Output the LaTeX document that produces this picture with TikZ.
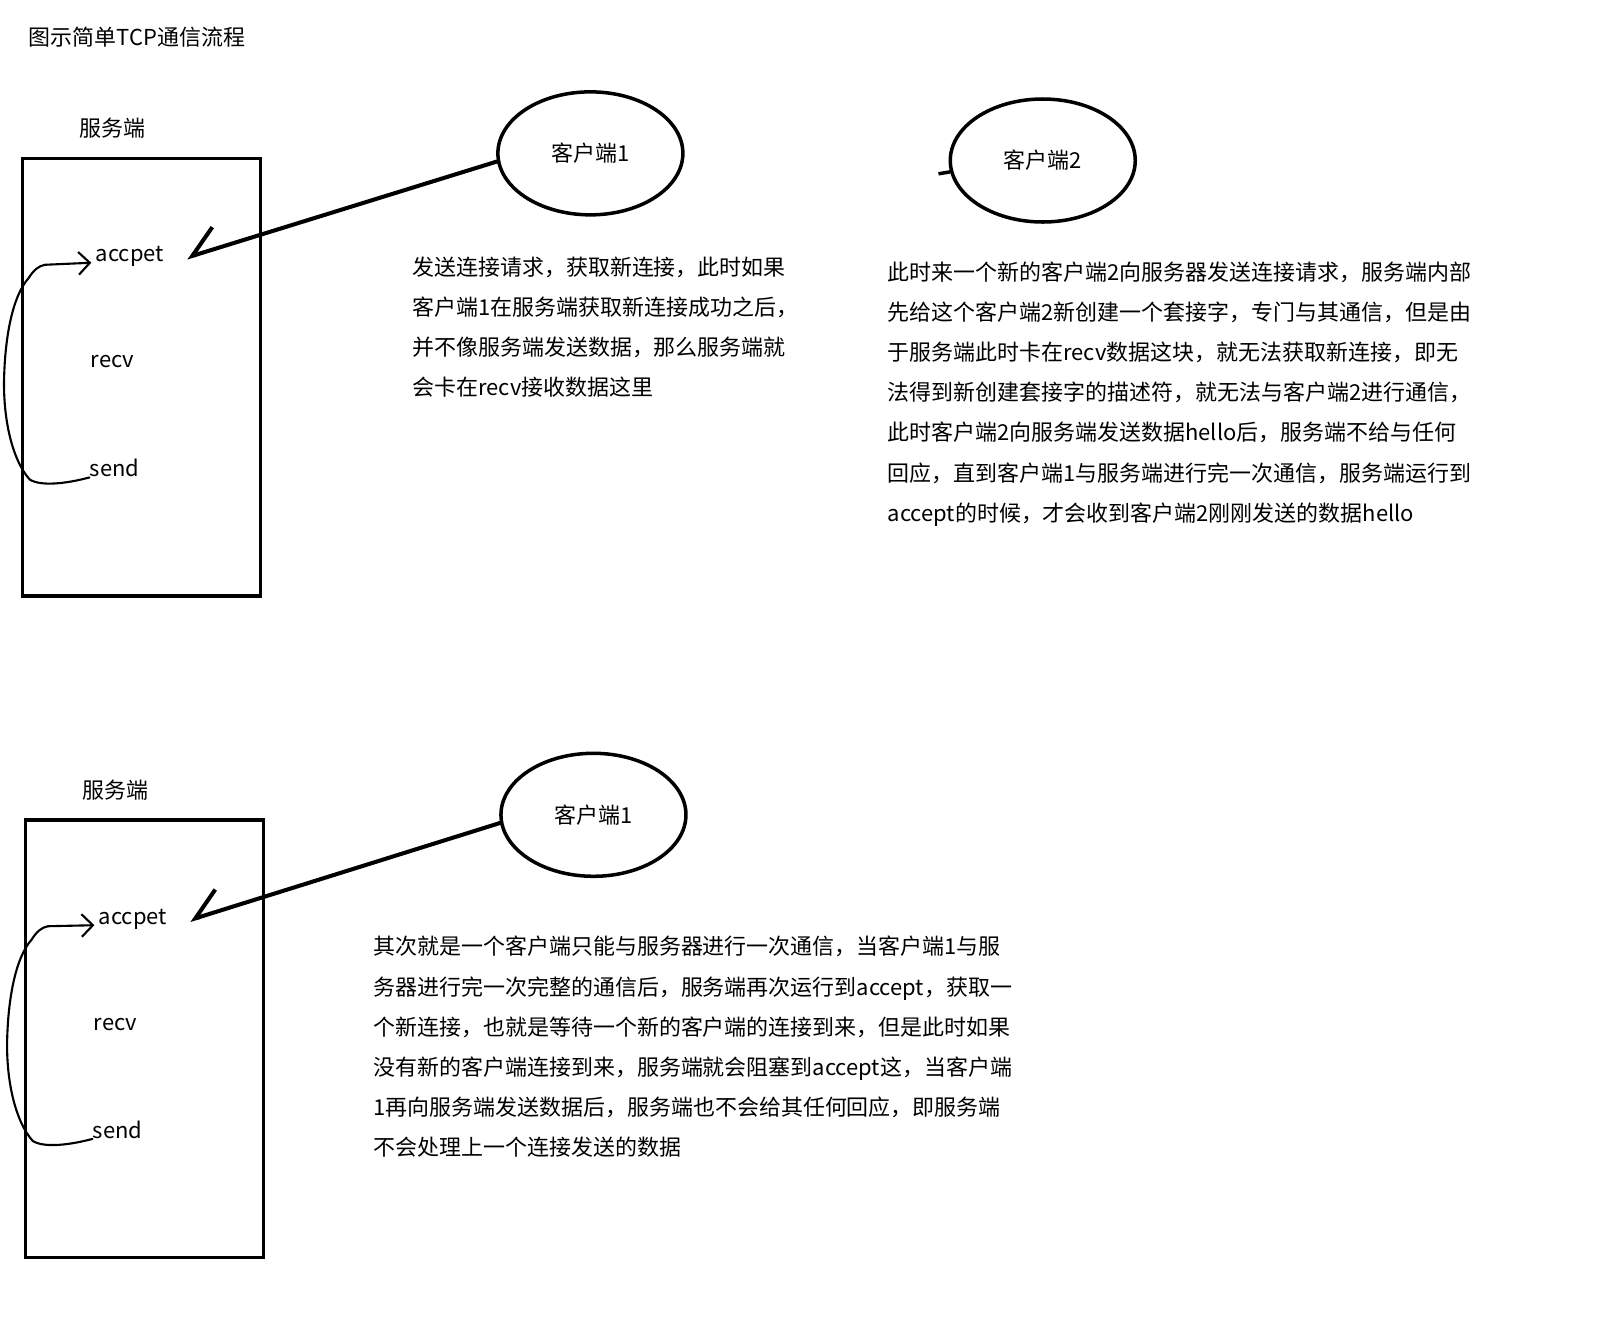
\documentclass[tikz,border=0pt]{standalone}
\usepackage{fontspec}
\setmainfont{Noto Sans CJK SC}
\usepackage{tikz}
\usetikzlibrary{shapes.geometric,arrows.meta}

\begin{document}
\begin{tikzpicture}[
    x=0.02044cm, y=-0.02044cm,
    font=\fontsize{12.5}{22.8}\selectfont,
    srvbox/.style={rectangle, draw=black, line width=2pt, minimum width=4.76cm, minimum height=8.75cm},
    clibox/.style={ellipse, draw=black, line width=2pt, minimum width=3.7cm, minimum height=2.46cm, inner sep=0pt},
    fn/.style={inner sep=0pt},
    note/.style={align=left, anchor=north west, inner sep=0pt},
    req/.style={-{Straight Barb[harpoon, swap, angle=76:0.7cm]}, line width=2.3pt, line cap=round},
    backarrow/.style={-{Straight Barb[angle=90:0.32cm]}, line width=1.2pt, line cap=round},
]
\fill[white, use as bounding box] (0,0) rectangle (1568,1299);

% Title
\node[fn, anchor=west] (title) at (28,36) {图示简单TCP通信流程};

% Server - top
\node[fn] (srvtoplbl) at (110,125) {服务端};
\node[srvbox] (srvtop) at (138.5,369) {};
\node[fn] (acctop) at (127,251) {accpet};
\node[fn] (recvtop) at (110,354) {recv};
\node[fn] (sendtop) at (112,458) {send};

% Client 1 - top
\node[clibox] (clitop) at (577.5,150) {客户端1};
\draw[req] (clitop.185) -- ([shift={(22,1)}]acctop.east);
\draw[backarrow] (sendtop.south west) .. controls (65,473) and (40,476) .. (29,469) .. controls (12,450) and (3,410) .. (4,370) .. controls (5,330) and (12,290) .. (28,272) .. controls (33,264) and (38,260) .. (44,259) -- ([shift={(-4,6)}]acctop.west);

\node[note] (notetop) at (403,251) {发送连接请求，获取新连接，此时如果\\客户端1在服务端获取新连接成功之后，\\并不像服务端发送数据，那么服务端就\\会卡在recv接收数据这里};

% Client 2
\node[clibox] (cli2) at (1020,157) {客户端2};
\coordinate (stub) at (918,170);
\draw[line width=2pt] (cli2.187) -- (stub);

\node[note] (note2) at (868,256) {此时来一个新的客户端2向服务器发送连接请求，服务端内部\\先给这个客户端2新创建一个套接字，专门与其通信，但是由\\于服务端此时卡在recv数据这块，就无法获取新连接，即无\\法得到新创建套接字的描述符，就无法与客户端2进行通信，\\此时客户端2向服务端发送数据hello后，服务端不给与任何\\回应，直到客户端1与服务端进行完一次通信，服务端运行到\\accept的时候，才会收到客户端2刚刚发送的数据hello};

% Server - bottom
\node[fn] (srvbotlbl) at (113,773) {服务端};
\node[srvbox] (srvbot) at (141.5,1016) {};
\node[fn] (accbot) at (130,899) {accpet};
\node[fn] (recvbot) at (113,1002) {recv};
\node[fn] (sendbot) at (115,1105) {send};

% Client 1 - bottom
\node[clibox] (clibot) at (580.5,797) {客户端1};
\draw[req] (clibot.185) -- ([shift={(22,1)}]accbot.east);
\draw[backarrow] (sendbot.south west) .. controls (68,1120) and (43,1123) .. (32,1116) .. controls (15,1097) and (6,1057) .. (7,1017) .. controls (8,977) and (15,937) .. (31,919) .. controls (36,911) and (41,907) .. (47,906) -- ([shift={(-4,6)}]accbot.west);

\node[note] (notebot) at (365,915.5) {其次就是一个客户端只能与服务器进行一次通信，当客户端1与服\\务器进行完一次完整的通信后，服务端再次运行到accept，获取一\\个新连接，也就是等待一个新的客户端的连接到来，但是此时如果\\没有新的客户端连接到来，服务端就会阻塞到accept这，当客户端\\1再向服务端发送数据后，服务端也不会给其任何回应，即服务端\\不会处理上一个连接发送的数据};

\end{tikzpicture}
\end{document}
